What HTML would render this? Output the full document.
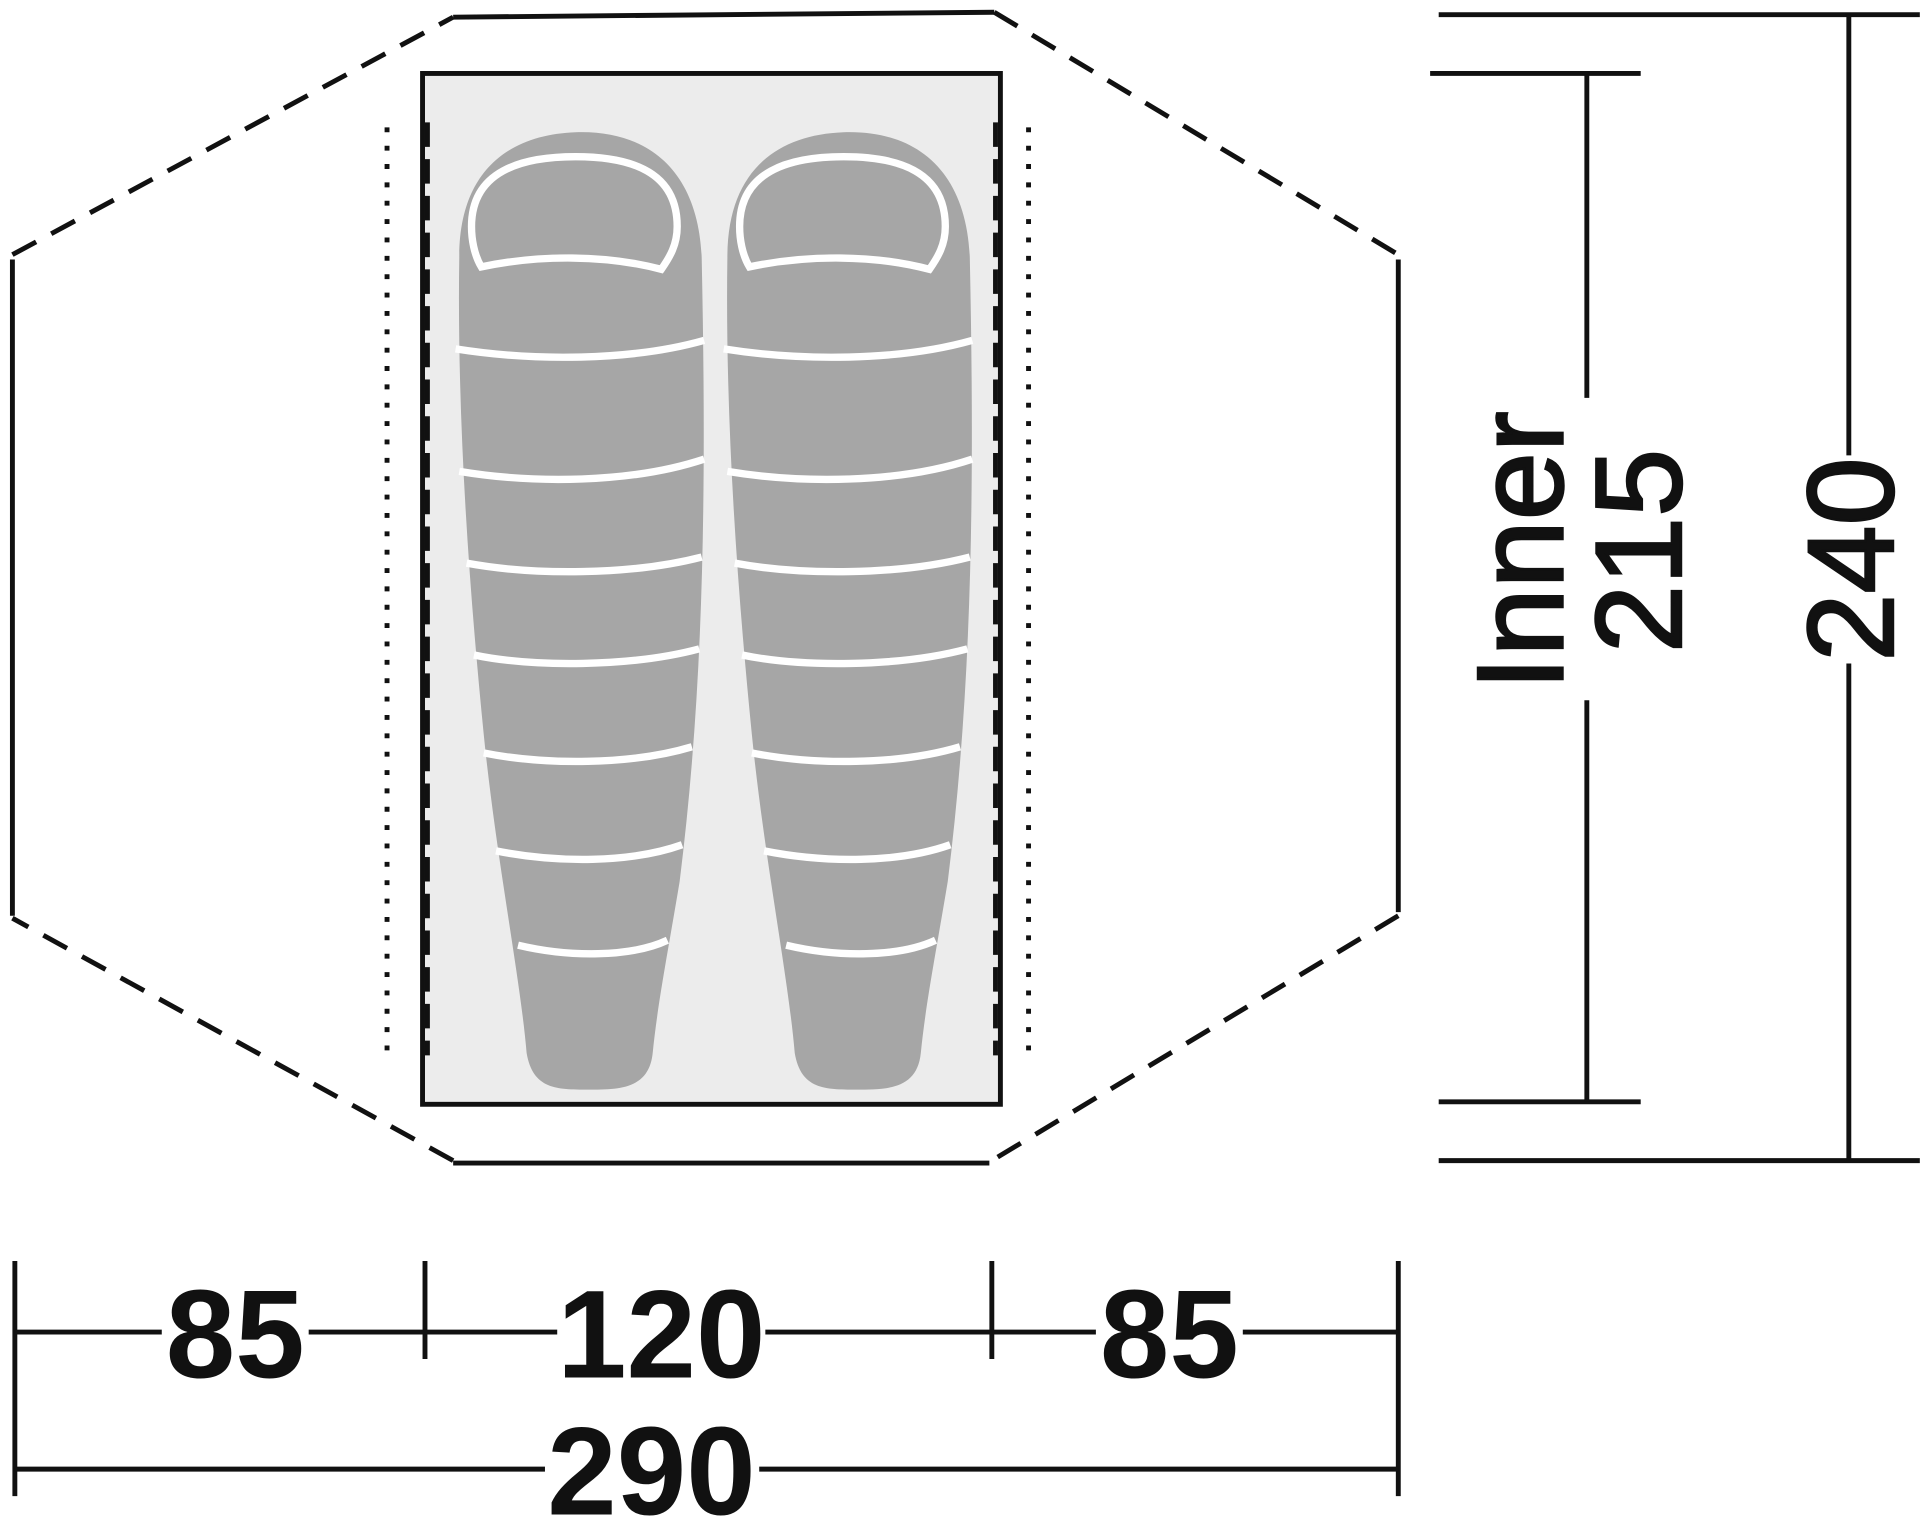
<!DOCTYPE html>
<html><head><meta charset="utf-8"><style>html,body{margin:0;padding:0;background:#fff}svg{display:block}</style></head>
<body>
<svg width="1920" height="1523" viewBox="0 0 1568 1244" xmlns="http://www.w3.org/2000/svg" font-family="Liberation Sans, sans-serif" font-weight="bold">
<rect width="1568" height="1244" fill="#fff"/>
<g stroke="#111" stroke-width="4" fill="none">
<line x1="370" y1="14" x2="812" y2="10"/>
<line x1="1142" y1="212" x2="1142" y2="745"/>
<line x1="370" y1="950" x2="808" y2="950"/>
<line x1="10" y1="212" x2="10" y2="748"/>
<g stroke-dasharray="22,14">
<line x1="812" y1="10" x2="1142" y2="208"/>
<line x1="1142" y1="748" x2="810" y2="948"/>
<line x1="370" y1="948" x2="10" y2="750"/>
<line x1="10" y1="208" x2="370" y2="14"/>
</g>
</g>
<rect x="345" y="60" width="472" height="842" fill="#ececec" stroke="#111" stroke-width="4"/>
<g stroke="#111" stroke-width="4">
<line x1="349" y1="100" x2="349" y2="862" stroke-dasharray="20,10"/>
<line x1="813" y1="100" x2="813" y2="862" stroke-dasharray="20,10"/>
<line x1="316" y1="104" x2="316" y2="858" stroke-dasharray="4,11"/>
<line x1="840" y1="104" x2="840" y2="858" stroke-dasharray="4,11"/>
</g>
<defs>
<g id="bag">
<path d="M0,110 C0,40 40,10 95,8 C155,6 195,40 198,110 C202,300 200,460 180,620 C170,680 162,720 158,760 C155,790 130,790 105,790 C80,790 60,790 55,760 C50,700 30,600 20,500 C8,380 -2,240 0,110 Z" fill="#a6a6a6"/>
<g stroke="#fff" stroke-width="6" fill="none">
<path d="M10,85 C10,40 50,28 95,28 C140,28 178,40 178,85 C178,100 172,110 165,120 C120,108 65,108 18,118 C12,108 10,95 10,85 Z"/>
<path d="M-3,185 C60,195 140,195 200,178"/>
<path d="M0,285 C60,295 140,295 200,275"/>
<path d="M6,360 C60,370 140,370 198,355"/>
<path d="M12,435 C60,445 140,445 196,430"/>
<path d="M20,515 C70,525 140,525 190,510"/>
<path d="M30,595 C80,605 140,605 182,590"/>
<path d="M48,672 C90,682 140,682 170,668"/>
</g>
</g>
</defs>
<use href="#bag" x="375" y="100"/>
<use href="#bag" x="594" y="100"/>
<g stroke="#111" stroke-width="4">
<line x1="1175" y1="12" x2="1568" y2="12"/>
<line x1="1175" y1="948" x2="1568" y2="948"/>
<line x1="1510" y1="12" x2="1510" y2="372"/>
<line x1="1510" y1="542" x2="1510" y2="948"/>
<line x1="1168" y1="60" x2="1340" y2="60"/>
<line x1="1175" y1="900" x2="1340" y2="900"/>
<line x1="1296" y1="60" x2="1296" y2="325"/>
<line x1="1296" y1="572" x2="1296" y2="900"/>
<line x1="12" y1="1030" x2="12" y2="1222"/>
<line x1="1142" y1="1030" x2="1142" y2="1222"/>
<line x1="347" y1="1030" x2="347" y2="1110"/>
<line x1="810" y1="1030" x2="810" y2="1110"/>
<line x1="12" y1="1088" x2="132" y2="1088"/>
<line x1="252" y1="1088" x2="455" y2="1088"/>
<line x1="625" y1="1088" x2="895" y2="1088"/>
<line x1="1015" y1="1088" x2="1142" y2="1088"/>
<line x1="12" y1="1200" x2="445" y2="1200"/>
<line x1="620" y1="1200" x2="1142" y2="1200"/>
</g>
<g font-size="102" fill="#111" text-anchor="middle">
<text x="192" y="1125">85</text>
<text x="540" y="1125">120</text>
<text x="955" y="1125">85</text>
<text x="532" y="1237">290</text>
</g>
<g font-size="100" fill="#111" text-anchor="middle" font-weight="normal" stroke="#111" stroke-width="2">
<text transform="translate(1546,457) rotate(-90)">240</text>
<text transform="translate(1373,450) rotate(-90)">215</text>
<text transform="translate(1276,450) rotate(-90)">Inner</text>
</g>
</svg>
</body></html>
